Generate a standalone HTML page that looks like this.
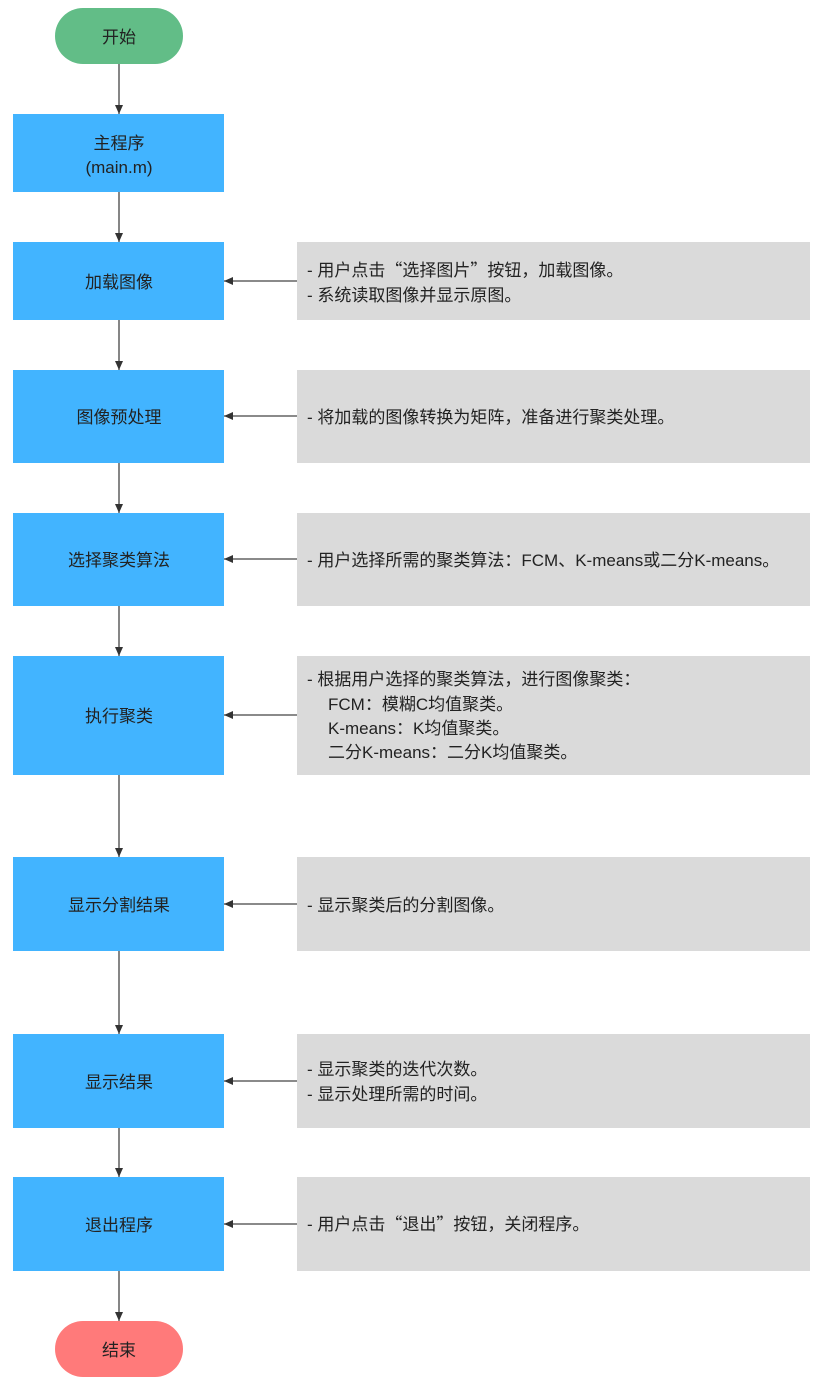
<!DOCTYPE html>
<html><head><meta charset="utf-8"><style>
html,body{margin:0;padding:0;background:#fff}
svg text{font-family:"Liberation Sans","Noto Sans CJK SC",sans-serif;font-size:17px;fill:#222}
.q{font-family:"Noto Sans CJK SC",sans-serif}
</style></head><body>
<svg width="822" height="1390" viewBox="0 0 822 1390" xmlns="http://www.w3.org/2000/svg">
<defs><marker id="a" markerWidth="10" markerHeight="10" refX="9" refY="5" orient="auto" markerUnits="userSpaceOnUse"><path d="M0,1 L9,5 L0,9 z" fill="#333"/></marker></defs>
<g stroke="#444" stroke-width="1.3" marker-end="url(#a)">
<line x1="119" y1="64" x2="119" y2="114"/>
<line x1="119" y1="192" x2="119" y2="242"/>
<line x1="119" y1="320" x2="119" y2="370"/>
<line x1="119" y1="463" x2="119" y2="513"/>
<line x1="119" y1="606" x2="119" y2="656"/>
<line x1="119" y1="775" x2="119" y2="857"/>
<line x1="119" y1="951" x2="119" y2="1034"/>
<line x1="119" y1="1128" x2="119" y2="1177"/>
<line x1="119" y1="1271" x2="119" y2="1321"/>
<line x1="297" y1="281" x2="224" y2="281"/>
<line x1="297" y1="416" x2="224" y2="416"/>
<line x1="297" y1="559" x2="224" y2="559"/>
<line x1="297" y1="715" x2="224" y2="715"/>
<line x1="297" y1="904" x2="224" y2="904"/>
<line x1="297" y1="1081" x2="224" y2="1081"/>
<line x1="297" y1="1224" x2="224" y2="1224"/>
</g>
<rect x="55" y="8" width="128" height="56" rx="28" fill="#62bd87"/>
<rect x="55" y="1321" width="128" height="56" rx="28" fill="#ff7a7a"/>
<g fill="#42b4ff">
<rect x="13" y="114" width="211" height="78"/>
<rect x="13" y="242" width="211" height="78"/>
<rect x="13" y="370" width="211" height="93"/>
<rect x="13" y="513" width="211" height="93"/>
<rect x="13" y="656" width="211" height="119"/>
<rect x="13" y="857" width="211" height="94"/>
<rect x="13" y="1034" width="211" height="94"/>
<rect x="13" y="1177" width="211" height="94"/>
</g>
<g fill="#dadada">
<rect x="297" y="242" width="513" height="78"/>
<rect x="297" y="370" width="513" height="93"/>
<rect x="297" y="513" width="513" height="93"/>
<rect x="297" y="656" width="513" height="119"/>
<rect x="297" y="857" width="513" height="94"/>
<rect x="297" y="1034" width="513" height="94"/>
<rect x="297" y="1177" width="513" height="94"/>
</g>
<g text-anchor="middle">
<text x="119" y="43">开始</text>
<text x="119" y="149">主程序</text>
<text x="119" y="173">(main.m)</text>
<text x="119" y="288">加载图像</text>
<text x="119" y="423">图像预处理</text>
<text x="119" y="566">选择聚类算法</text>
<text x="119" y="722">执行聚类</text>
<text x="119" y="911">显示分割结果</text>
<text x="119" y="1088">显示结果</text>
<text x="119" y="1231">退出程序</text>
<text x="119" y="1356">结束</text>
</g>
<g>
<text x="307" y="276">- 用户点击<tspan class="q">“</tspan>选择图片<tspan class="q">”</tspan>按钮，加载图像。</text>
<text x="307" y="301">- 系统读取图像并显示原图。</text>
<text x="307" y="423">- 将加载的图像转换为矩阵，准备进行聚类处理。</text>
<text x="307" y="566">- 用户选择所需的聚类算法：FCM、K-means或二分K-means。</text>
<text x="307" y="685">- 根据用户选择的聚类算法，进行图像聚类：</text>
<text x="328" y="710">FCM：模糊C均值聚类。</text>
<text x="328" y="734">K-means：K均值聚类。</text>
<text x="328" y="758">二分K-means：二分K均值聚类。</text>
<text x="307" y="911">- 显示聚类后的分割图像。</text>
<text x="307" y="1075">- 显示聚类的迭代次数。</text>
<text x="307" y="1100">- 显示处理所需的时间。</text>
<text x="307" y="1230">- 用户点击<tspan class="q">“</tspan>退出<tspan class="q">”</tspan>按钮，关闭程序。</text>
</g>
</svg>
</body></html>
